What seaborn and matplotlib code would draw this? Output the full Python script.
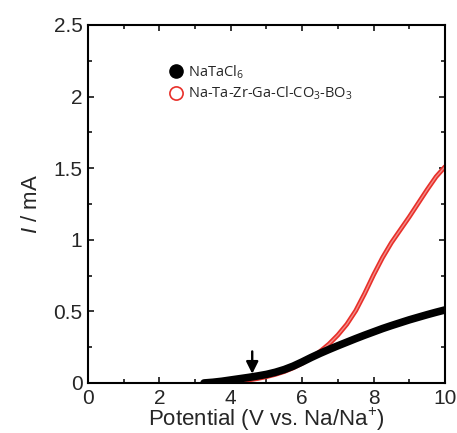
import pandas as pd
import seaborn as sns
import matplotlib.pyplot as plt
from matplotlib.lines import Line2D
from matplotlib.ticker import MultipleLocator

# values
potential = [3.25, 3.5, 3.75, 4.0, 4.25, 4.5, 4.75, 5.0, 5.25, 5.5, 5.75, 6.0, 6.25, 6.5,
             6.75, 7.0, 7.25, 7.5, 7.75, 8.0, 8.25, 8.5, 8.75, 9.0, 9.25, 9.5, 9.75, 10.0]
current_natacl6 = [0.0, 0.005, 0.012, 0.021, 0.030, 0.039, 0.049, 0.060, 0.075, 0.094, 0.118, 0.147,
                   0.178, 0.207, 0.234, 0.260, 0.285, 0.310, 0.334, 0.357, 0.380, 0.401, 0.421,
                   0.441, 0.459, 0.477, 0.494, 0.510]
current_mixed = [0.0, 0.0, 0.003, 0.007, 0.013, 0.021, 0.031, 0.044, 0.060, 0.080, 0.106, 0.138,
                 0.175, 0.220, 0.272, 0.335, 0.410, 0.505, 0.625, 0.755, 0.875, 0.980, 1.070,
                 1.160, 1.255, 1.350, 1.440, 1.510]
labels = ["NaTaCl$_6$", "Na-Ta-Zr-Ga-Cl-CO$_3$-BO$_3$"]
arrow_x = 4.6
arrow_from, arrow_to = 0.24, 0.045

df = pd.DataFrame({"Potential": potential, "NaTaCl6": current_natacl6, "Mixed": current_mixed})

sns.set_theme(style="ticks")
plt.rcParams["font.family"] = ["Liberation Sans", "DejaVu Sans"]
plt.rcParams["mathtext.fontset"] = "custom"
plt.rcParams["mathtext.rm"] = "Open Sans"
plt.rcParams["mathtext.it"] = "Liberation Sans:italic"

fig = plt.figure(figsize=(4.57, 4.33), dpi=100)
ax = fig.add_axes([0.1926, 0.1155, 0.7811, 0.8268])

red = "#e8302a"
sns.lineplot(data=df, x="Potential", y="Mixed", color=red, linewidth=3.4, ax=ax)
sns.lineplot(data=df, x="Potential", y="Mixed", color="white", linewidth=1.0, alpha=0.45, ax=ax)
sns.lineplot(data=df, x="Potential", y="NaTaCl6", color="black", linewidth=5.5, ax=ax,
             solid_capstyle="round")

ax.annotate("", xy=(arrow_x, arrow_to), xytext=(arrow_x, arrow_from),
            arrowprops=dict(arrowstyle="-|>", color="black", lw=1.7, mutation_scale=18))

ax.set_xlim(0, 10)
ax.set_ylim(0, 2.5)
ax.xaxis.set_major_locator(MultipleLocator(2))
ax.xaxis.set_minor_locator(MultipleLocator(1))
ax.yaxis.set_major_locator(MultipleLocator(0.5))
ax.yaxis.set_minor_locator(MultipleLocator(0.25))
ax.set_yticks([0, 0.5, 1, 1.5, 2, 2.5], ["0", "0.5", "1", "1.5", "2", "2.5"])
ax.tick_params(which="both", direction="in", top=True, right=True, width=1.3, labelsize=15)
ax.tick_params(axis="x", pad=4)
ax.tick_params(axis="y", pad=4)
ax.tick_params(which="major", length=4.5)
ax.tick_params(which="minor", length=2.6)
for s in ax.spines.values():
    s.set_linewidth(1.5)
    s.set_color("black")

ax.set_xlabel("Potential (V vs. Na/Na$^{+}$)", fontsize=16, labelpad=-1)
ax.set_ylabel("$I$ / mA", fontsize=16, labelpad=8)

handles = [Line2D([], [], ls="none", marker="o", ms=9.5, color="black"),
           Line2D([], [], ls="none", marker="o", ms=9.5, mfc="none", mec=red, mew=1.2)]
ax.legend(handles, labels, loc="upper left", bbox_to_anchor=(0.185, 0.93), frameon=False,
          prop={"family": "Open Sans", "size": 10.5}, handletextpad=0.2, labelspacing=0.3,
          handlelength=1.2)

fig.savefig("out.png", dpi=100)
